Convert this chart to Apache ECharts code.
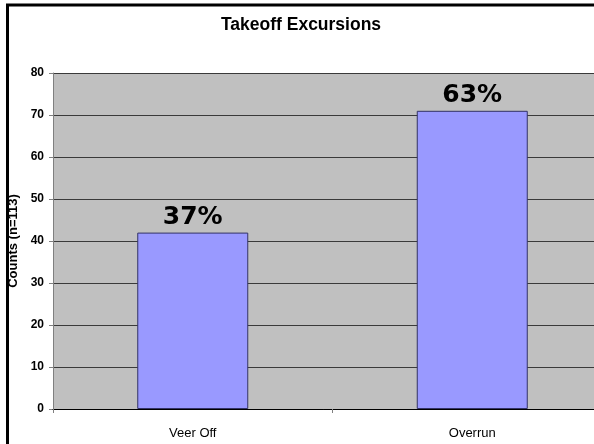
<!DOCTYPE html>
<html>
<head>
<meta charset="utf-8">
<script src="https://cdn.jsdelivr.net/npm/echarts@6/dist/echarts.min.js"></script>
<style>
html,body{margin:0;padding:0;background:#fff;}
#c{width:594px;height:444px;}
</style>
</head>
<body>
<div id="c"></div>
<script>
var categories = ['Veer Off', 'Overrun'];
var counts = [42, 71];
var pctLabels = ['37%', '63%'];
var yTicks = [0, 10, 20, 30, 40, 50, 60, 70, 80];

var chart = echarts.init(document.getElementById('c'), null, {renderer: 'canvas'});
chart.setOption({
  animation: false,
  backgroundColor: '#ffffff',
  title: {
    text: 'Takeoff Excursions',
    left: 296, textAlign: 'center', top: 11,
    textStyle: {fontFamily: 'Liberation Sans, Arial', fontWeight: 'bold', fontSize: 17.5, color: '#000'}
  },
  graphic: [{
    type: 'rect', silent: true, z: 100,
    shape: {x: 7.5, y: 5, width: 800, height: 800},
    style: {fill: 'none', stroke: '#000', lineWidth: 3}
  }],
  grid: {
    left: 53, top: 73, width: 559, height: 336,
    outerBoundsMode: 'none', containLabel: false,
    show: true, backgroundColor: '#c0c0c0', borderWidth: 0
  },
  xAxis: {
    type: 'category', data: categories, boundaryGap: true,
    axisLine: {show: true, lineStyle: {color: '#000', width: 1}},
    axisTick: {show: true, length: 4, lineStyle: {color: '#808080'}},
    axisLabel: {margin: 18, fontFamily: 'Liberation Sans, Arial', fontSize: 13, color: '#000'},
    z: 5
  },
  yAxis: {
    type: 'value', min: yTicks[0], max: yTicks[yTicks.length - 1], interval: 10,
    name: 'Counts (n=113)', nameLocation: 'middle', nameGap: 33, nameRotate: 90,
    nameTextStyle: {fontFamily: 'Liberation Sans, Arial', fontWeight: 'bold', fontSize: 13, color: '#000'},
    axisLine: {show: true, lineStyle: {color: '#808080', width: 1}},
    axisTick: {show: true, length: 4, lineStyle: {color: '#808080'}},
    axisLabel: {margin: 9, fontFamily: 'Liberation Sans, Arial', fontWeight: 'bold', fontSize: 12, color: '#000'},
    splitLine: {show: true, lineStyle: {color: '#3a3a3a', width: 1}}
  },
  series: [{
    type: 'bar',
    data: counts,
    barWidth: 111,
    itemStyle: {color: '#9999ff', borderColor: '#333366', borderWidth: 1},
    label: {
      show: true, position: 'top', distance: 3,
      formatter: function (p) { return pctLabels[p.dataIndex]; },
      fontFamily: 'DejaVu Sans, Verdana', fontWeight: 'bold', fontSize: 25, color: '#000'
    },
    z: 3
  }]
});
</script>
</body>
</html>
